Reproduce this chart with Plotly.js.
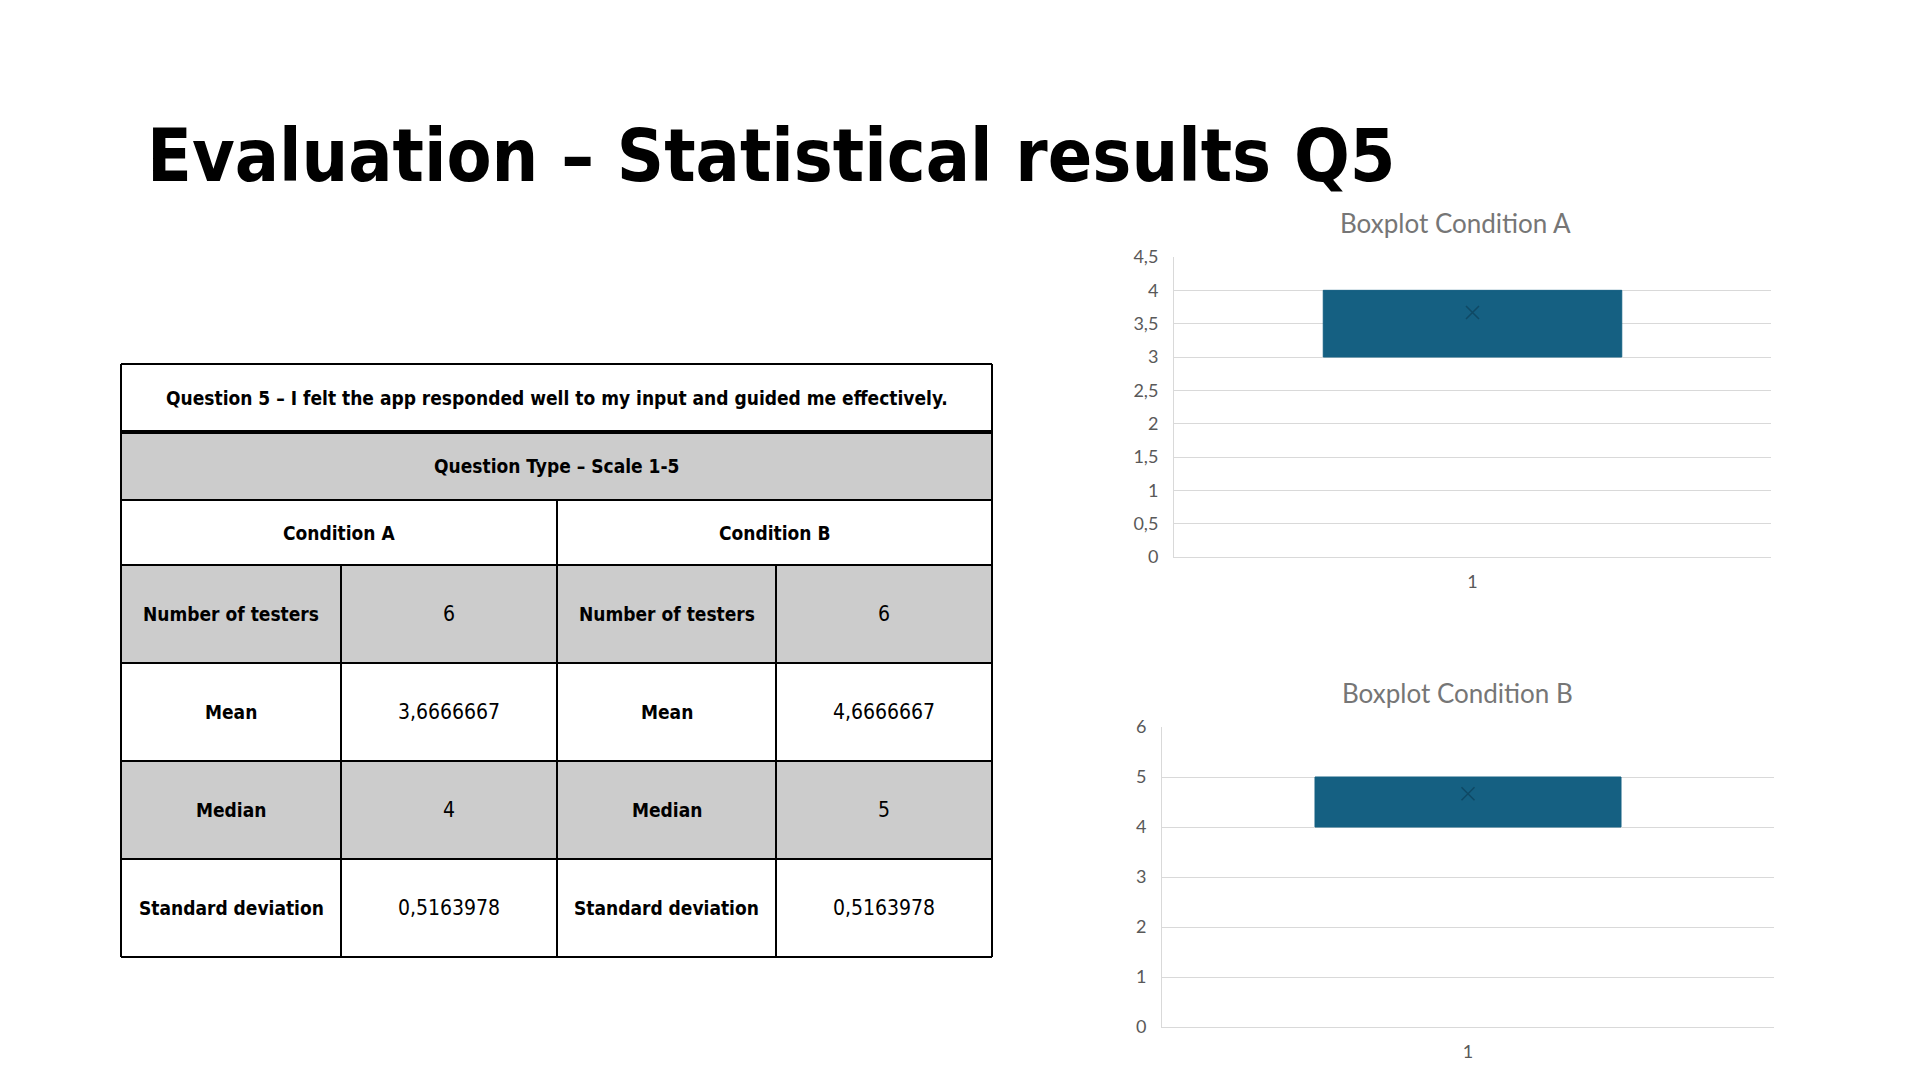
<!DOCTYPE html>
<html>
<head>
<meta charset="utf-8">
<script src="https://cdn.plot.ly/plotly-3.0.1.min.js"></script>
<style>
  html, body { margin: 0; padding: 0; background: #ffffff; }
  #chart { width: 1920px; height: 1080px; }
</style>
</head>
<body>
<div id="chart"></div>
<script>
// ---------------- DATA ----------------
const pageTitle = "Evaluation – Statistical results Q5";
const questionText = "Question 5 – I felt the app responded well to my input and guided me effectively.";
const questionType = "Question Type – Scale 1-5";
const conditionNames = ["Condition A", "Condition B"];
const rowLabels = ["Number of testers", "Mean", "Median", "Standard deviation"];
const valuesA = ["6", "3,6666667", "4", "0,5163978"];
const valuesB = ["6", "4,6666667", "5", "0,5163978"];
const chartTitles = ["Boxplot Condition A", "Boxplot Condition B"];
const categoryLabels = ["1"];
const scoresA = [3, 3, 4, 4, 4, 4];
const scoresB = [4, 4, 5, 5, 5, 5];

// ---------------- STYLE / GEOMETRY ----------------
const W = 1920, H = 1080;
const px = x => x / W;
const py = y => 1 - y / H;
const NARROW = "'Liberation Sans Narrow', 'DejaVu Sans Condensed', Roboto, sans-serif";
const CHART_FONT = "Lato, 'Open Sans', sans-serif";
const BOX_COLOR = "#156082";
const MEAN_COLOR = "#0f4964";
const GRID = "#D9D9D9";
const TICK_COLOR = "#595959";

const tblCols = [121, 341, 557, 776, 992];
const tblRows = [364, 432, 500, 565, 663, 761, 859, 957];
const grayRows = [1, 3, 5]; // question type row, number of testers, median

const mean = arr => arr.reduce((a, b) => a + b, 0) / arr.length;

const shapes = [];
const annotations = [];

// gray fills
grayRows.forEach(r => {
  shapes.push({type: "rect", xref: "paper", yref: "paper",
    x0: px(tblCols[0]), x1: px(tblCols[4]), y0: py(tblRows[r]), y1: py(tblRows[r + 1]),
    fillcolor: "#CCCCCC", line: {width: 0}, layer: "below"});
});
// horizontal lines
tblRows.forEach((y, i) => {
  shapes.push({type: "line", xref: "paper", yref: "paper",
    x0: px(tblCols[0]), x1: px(tblCols[4]), y0: py(y), y1: py(y),
    line: {color: "#000000", width: i === 1 ? 4 : 2}});
});
// vertical outer lines
[tblCols[0], tblCols[4]].forEach(x => {
  shapes.push({type: "line", xref: "paper", yref: "paper",
    x0: px(x), x1: px(x), y0: py(tblRows[0]), y1: py(tblRows[7]),
    line: {color: "#000000", width: 2}});
});
// middle vertical line (from condition row down)
shapes.push({type: "line", xref: "paper", yref: "paper",
  x0: px(tblCols[2]), x1: px(tblCols[2]), y0: py(tblRows[2]), y1: py(tblRows[7]),
  line: {color: "#000000", width: 2}});
// inner verticals (from stats rows down)
[tblCols[1], tblCols[3]].forEach(x => {
  shapes.push({type: "line", xref: "paper", yref: "paper",
    x0: px(x), x1: px(x), y0: py(tblRows[3]), y1: py(tblRows[7]),
    line: {color: "#000000", width: 2}});
});

function cellText(text, xc, yc, bold, size) {
  annotations.push({xref: "paper", yref: "paper", x: px(xc), y: py(yc),
    xanchor: "center", yanchor: "middle", showarrow: false, text: text,
    font: {family: NARROW, size: size || 19, color: "#000000", weight: bold ? 700 : 400}});
}
const midX = (a, b) => (tblCols[a] + tblCols[b]) / 2;
const midY = r => (tblRows[r] + tblRows[r + 1]) / 2;

cellText(questionText, midX(0, 4), midY(0), true);
cellText(questionType, midX(0, 4), midY(1), true);
cellText(conditionNames[0], midX(0, 2), midY(2), true);
cellText(conditionNames[1], midX(2, 4), midY(2), true);
rowLabels.forEach((lab, i) => {
  cellText(lab, midX(0, 1), midY(3 + i), true);
  cellText(valuesA[i], midX(1, 2), midY(3 + i), false, 21);
  cellText(lab, midX(2, 3), midY(3 + i), true);
  cellText(valuesB[i], midX(3, 4), midY(3 + i), false, 21);
});

// page title
annotations.push({xref: "paper", yref: "paper", x: px(145), y: py(156),
  xanchor: "left", yanchor: "middle", showarrow: false, text: pageTitle,
  font: {family: NARROW, size: 73, color: "#000000", weight: 700}});

// chart titles
annotations.push({xref: "paper", yref: "paper", x: px(1455), y: py(223),
  xanchor: "center", yanchor: "middle", showarrow: false, text: chartTitles[0],
  font: {family: CHART_FONT, size: 26, color: "#767676"}});
annotations.push({xref: "paper", yref: "paper", x: px(1457), y: py(693),
  xanchor: "center", yanchor: "middle", showarrow: false, text: chartTitles[1],
  font: {family: CHART_FONT, size: 26, color: "#767676"}});

// ---------------- TRACES ----------------
function boxTrace(scores, xa, ya) {
  return {type: "box", y: scores, x0: categoryLabels[0], xaxis: xa, yaxis: ya,
    boxpoints: false, quartilemethod: "exclusive", width: 0.5, whiskerwidth: 0,
    fillcolor: BOX_COLOR, line: {color: BOX_COLOR, width: 1},
    hoverinfo: "skip", showlegend: false};
}
function meanTrace(scores, xa, ya) {
  return {type: "scatter", mode: "markers", x: [categoryLabels[0]], y: [mean(scores)],
    xaxis: xa, yaxis: ya,
    marker: {symbol: "x-thin", size: 13, color: MEAN_COLOR, line: {color: MEAN_COLOR, width: 1.5}},
    hoverinfo: "skip", showlegend: false};
}

const data = [
  boxTrace(scoresA, "x", "y"), meanTrace(scoresA, "x", "y"),
  boxTrace(scoresB, "x2", "y2"), meanTrace(scoresB, "x2", "y2")
];

const tickFont = {family: CHART_FONT, size: 18, color: TICK_COLOR};
function xAxis(domain) {
  return {domain: domain, type: "category", range: [-0.5, 0.5], showgrid: false,
    showline: true, linecolor: GRID, linewidth: 1, ticks: "", tickfont: tickFont,
    ticklabelstandoff: 8, fixedrange: true, zeroline: false};
}
function yAxis(domain, maxV, dt) {
  return {domain: domain, range: [0, maxV], tick0: 0, dtick: dt, showgrid: true,
    gridcolor: GRID, gridwidth: 1, showline: true, linecolor: GRID, linewidth: 1,
    zeroline: false, ticks: "", tickfont: tickFont, ticklabelstandoff: 11, fixedrange: true};
}

const layout = {
  width: W, height: H,
  margin: {l: 0, r: 0, t: 0, b: 0, pad: 0},
  paper_bgcolor: "#ffffff", plot_bgcolor: "rgba(0,0,0,0)",
  separators: ",.",
  showlegend: false,
  xaxis: xAxis([px(1174), px(1771)]),
  yaxis: Object.assign(yAxis([py(557), py(257)], 4.5, 0.5), {anchor: "x"}),
  xaxis2: Object.assign(xAxis([px(1162), px(1774)]), {anchor: "y2"}),
  yaxis2: Object.assign(yAxis([py(1027), py(727)], 6, 1), {anchor: "x2"}),
  shapes: shapes,
  annotations: annotations
};
layout.xaxis.anchor = "y";

Plotly.newPlot("chart", data, layout, {displayModeBar: false, staticPlot: true});
</script>
</body>
</html>
